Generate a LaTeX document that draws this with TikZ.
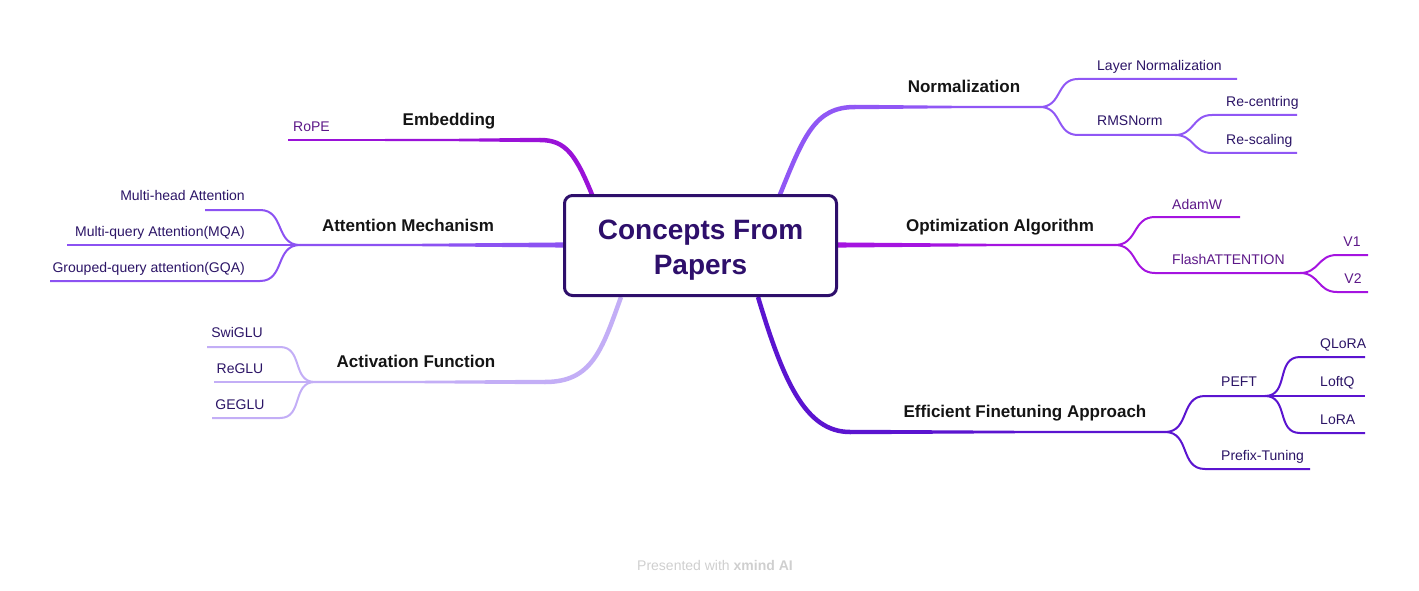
\documentclass[tikz,border=0pt]{standalone}
\usepackage{fontspec}
\setmainfont{Liberation Sans}
\usetikzlibrary{calc}
\definecolor{cemb}{HTML}{9A12D8}
\definecolor{catt}{HTML}{8C52F2}
\definecolor{cact}{HTML}{C3AEF6}
\definecolor{cnorm}{HTML}{9057F5}
\definecolor{copt}{HTML}{A514E0}
\definecolor{ceff}{HTML}{5B14D0}
\definecolor{cdark}{HTML}{2E0F6B}
\definecolor{csubtxt}{HTML}{2B1466}
\definecolor{cpurtxt}{HTML}{5C1788}
\definecolor{cfoot}{HTML}{CFCFCF}
% tapered branch: colour, from, to, start half-width
\newcommand\taperline[4]{%
  \fill[#1] ($(#2)+(0,-#4)$) -- ($(#2)!0.6!(#3)+(0,-1.1)$) -- ($(#3)+(0,-1.1)$)
    -- ($(#3)+(0,1.1)$) -- ($(#2)!0.6!(#3)+(0,1.1)$) -- ($(#2)+(0,#4)$) -- cycle;}
\tikzset{
  centerbox/.style={draw=cdark, line width=3pt, rounded corners=8pt, fill=white,
    minimum width=272pt, minimum height=100pt},
  titletxt/.style={text=cdark, align=center, inner sep=0pt,
    font=\fontsize{28}{35}\selectfont\bfseries},
  mainlbl/.style={font=\fontsize{17}{20}\selectfont\bfseries, text=black!92, inner sep=0pt},
  sublbl/.style={font=\fontsize{14}{16}\selectfont, text=csubtxt, inner sep=0pt},
  purlbl/.style={font=\fontsize{14}{16}\selectfont, text=cpurtxt, inner sep=0pt},
  curvebr/.style={line width=4.5pt},
  subln/.style={line width=2pt},
  sc/.style={out=0, in=180, looseness=1.2},
  scl/.style={out=180, in=0, looseness=1.2},
}
\begin{document}
\begin{tikzpicture}[x=1pt,y=-1pt]
\useasboundingbox (0,0) rectangle (1419,591);

% ---------- coordinates ----------
% Embedding
\coordinate (eb) at (593,197);
\coordinate (e1) at (540,140);
\coordinate (ej) at (385,140);
\coordinate (rope) at (288,140);
% Attention
\coordinate (ab) at (566,245);
\coordinate (aj) at (300,245);
\coordinate (mh1) at (260,210);
\coordinate (mh2) at (205,210);
\coordinate (mq) at (67,245);
\coordinate (gq1) at (260,281);
\coordinate (gq2) at (50,281);
% Activation
\coordinate (acb) at (621,297);
\coordinate (ac1) at (545,382);
\coordinate (acj) at (315,382);
\coordinate (sw1) at (280,347);
\coordinate (sw2) at (207,347);
\coordinate (re) at (214,382);
\coordinate (ge1) at (280,418);
\coordinate (ge2) at (212,418);
% Normalization
\coordinate (nb) at (779,197);
\coordinate (n1) at (855,107);
\coordinate (nj) at (1040,107);
\coordinate (ln1) at (1078,79);
\coordinate (ln2) at (1237,79);
\coordinate (rm1) at (1078,135);
\coordinate (rj) at (1175,135);
\coordinate (rc1) at (1212,115);
\coordinate (rc2) at (1297,115);
\coordinate (rs1) at (1212,153);
\coordinate (rs2) at (1297,153);
% Optimization
\coordinate (ob) at (835,245);
\coordinate (oj) at (1115,245);
\coordinate (ad1) at (1155,217);
\coordinate (ad2) at (1240,217);
\coordinate (fl1) at (1155,273);
\coordinate (fj) at (1300,273);
\coordinate (v11) at (1337,255);
\coordinate (v12) at (1368,255);
\coordinate (v21) at (1337,292);
\coordinate (v22) at (1368,292);
% Efficient finetuning
\coordinate (fb) at (758,297);
\coordinate (f1) at (850,432);
\coordinate (fj2) at (1165,432);
\coordinate (pe1) at (1205,396);
\coordinate (pj) at (1265,396);
\coordinate (pt1) at (1205,469);
\coordinate (pt2) at (1310,469);
\coordinate (ql1) at (1300,357);
\coordinate (ql2) at (1365,357);
\coordinate (lq) at (1365,396);
\coordinate (lo1) at (1300,433);
\coordinate (lo2) at (1365,433);

% ---------- main branches ----------
\draw[cemb,curvebr] (eb) .. controls (576,155) and (566,140) .. (e1);
\taperline{cemb}{e1}{ej}{2.25}
\draw[cemb,subln] (ej) -- (rope);

\taperline{catt}{ab}{aj}{2.6}
\draw[catt,subln] (aj) to[scl] (mh1) -- (mh2);
\draw[catt,subln] (aj) -- (mq);
\draw[catt,subln] (aj) to[scl] (gq1) -- (gq2);

\draw[cact,curvebr] (acb) .. controls (602,350) and (592,382) .. (ac1);
\taperline{cact}{ac1}{acj}{2.25}
\draw[cact,subln] (acj) to[scl] (sw1) -- (sw2);
\draw[cact,subln] (acj) -- (re);
\draw[cact,subln] (acj) to[scl] (ge1) -- (ge2);

\draw[cnorm,curvebr] (nb) .. controls (804,135) and (815,107) .. (n1);
\taperline{cnorm}{n1}{nj}{2.25}
\draw[cnorm,subln] (nj) to[sc] (ln1) -- (ln2);
\draw[cnorm,subln] (nj) to[sc] (rm1) -- (rj);
\draw[cnorm,subln] (rj) to[sc] (rc1) -- (rc2);
\draw[cnorm,subln] (rj) to[sc] (rs1) -- (rs2);

\taperline{copt}{ob}{oj}{2.6}
\draw[copt,subln] (oj) to[sc] (ad1) -- (ad2);
\draw[copt,subln] (oj) to[sc] (fl1) -- (fj);
\draw[copt,subln] (fj) to[sc] (v11) -- (v12);
\draw[copt,subln] (fj) to[sc] (v21) -- (v22);

\draw[ceff,curvebr] (fb) .. controls (783,380) and (805,432) .. (f1);
\taperline{ceff}{f1}{fj2}{2.25}
\draw[ceff,subln] (fj2) to[sc] (pe1) -- (pj);
\draw[ceff,subln] (fj2) to[sc] (pt1) -- (pt2);
\draw[ceff,subln] (pj) to[sc] (ql1) -- (ql2);
\draw[ceff,subln] (pj) -- (lq);
\draw[ceff,subln] (pj) to[sc] (lo1) -- (lo2);

% ---------- center ----------
\node[centerbox] (c) at (700.5,245.5) {};
\node[titletxt] (title) at ($(c.center)+(0,5)$) {Concepts From\\Papers};

% ---------- labels ----------
\node[mainlbl,anchor=mid] (tEmb) at (449,123) {Embedding};
\node[purlbl,anchor=mid west] (tRope) at (293,129) {RoPE};

\node[mainlbl,anchor=mid] (tAtt) at (408,229) {Attention Mechanism};
\node[sublbl,anchor=mid east] (tMH) at (245,198) {Multi-head Attention};
\node[sublbl,anchor=mid east] (tMQ) at (245,234) {Multi-query Attention(MQA)};
\node[sublbl,anchor=mid east] (tGQ) at (245,270) {Grouped-query attention(GQA)};

\node[mainlbl,anchor=mid] (tAct) at (416,365) {Activation Function};
\node[sublbl,anchor=mid] (tSw) at (237,335) {SwiGLU};
\node[sublbl,anchor=mid] (tRe) at (240,371) {ReGLU};
\node[sublbl,anchor=mid] (tGe) at (240,407) {GEGLU};

\node[mainlbl,anchor=mid] (tNorm) at (964,90) {Normalization};
\node[sublbl,anchor=mid west] (tLN) at (1097,68) {Layer Normalization};
\node[sublbl,anchor=mid west] (tRMS) at (1097,123) {RMSNorm};
\node[sublbl,anchor=mid west] (tRC) at (1226,104) {Re-centring};
\node[sublbl,anchor=mid west] (tRS) at (1226,142) {Re-scaling};

\node[mainlbl,anchor=mid] (tOpt) at (1000,229) {Optimization Algorithm};
\node[purlbl,anchor=mid west] (tAd) at (1172,207) {AdamW};
\node[purlbl,anchor=mid west] (tFl) at (1172,262) {FlashATTENTION};
\node[purlbl,anchor=mid] (tV1) at (1352,244) {V1};
\node[purlbl,anchor=mid] (tV2) at (1353,281) {V2};

\node[mainlbl,anchor=mid] (tEff) at (1025,415) {Efficient Finetuning Approach};
\node[sublbl,anchor=mid west] (tPE) at (1221,384) {PEFT};
\node[sublbl,anchor=mid west] (tPT) at (1221,458) {Prefix-Tuning};
\node[sublbl,anchor=mid west] (tQL) at (1320,346) {QLoRA};
\node[sublbl,anchor=mid west] (tLQ) at (1320,384) {LoftQ};
\node[sublbl,anchor=mid west] (tLo) at (1320,422) {LoRA};

\node[font=\fontsize{14}{16}\selectfont, text=cfoot, anchor=mid] (foot) at (715,568) {Presented with \textbf{xmind AI}};
\end{tikzpicture}
\end{document}
